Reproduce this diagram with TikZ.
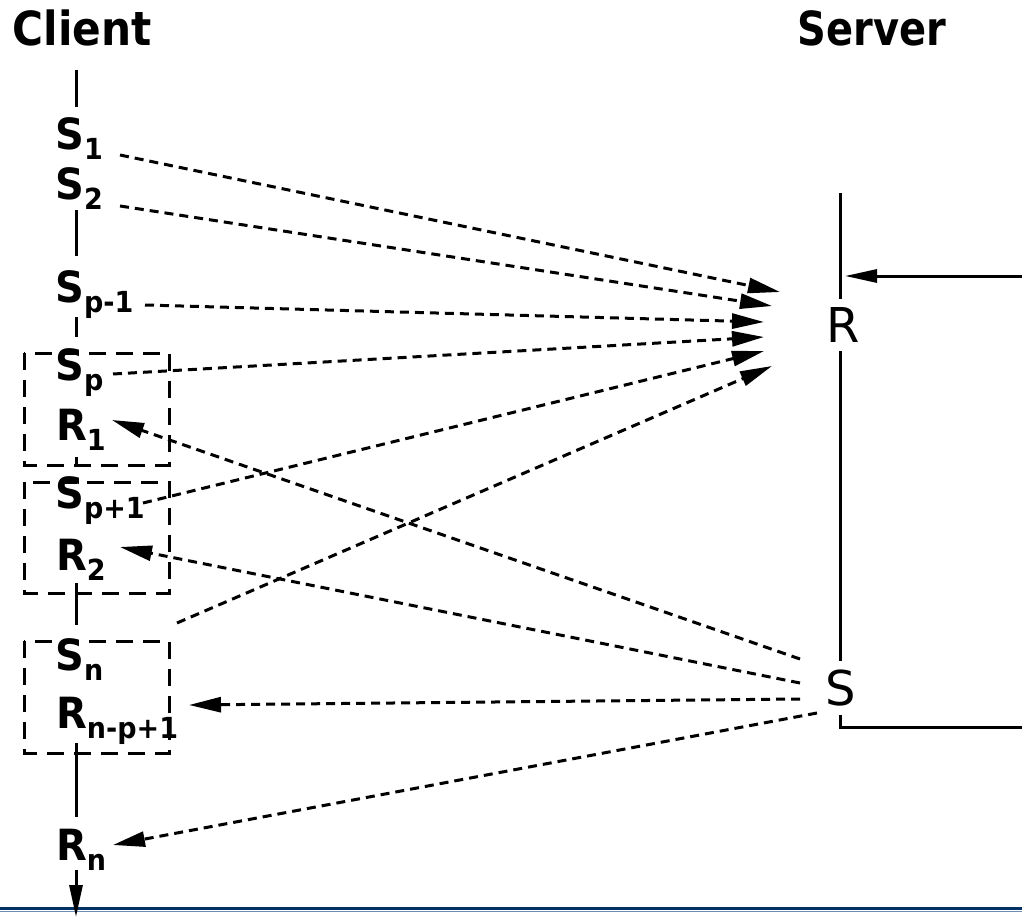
\documentclass[tikz,border=0pt]{standalone}
\usepackage{fontspec}
\setmainfont{DejaVu Sans}
\usetikzlibrary{arrows.meta}
\newcommand\lbl[2]{\scalebox{0.93}[1]{#1\raisebox{-10pt}{\fontsize{29}{29}\selectfont #2}}}
\begin{document}
\begin{tikzpicture}[x=1pt,y=-1pt,
  lab/.style={font=\fontsize{43}{43}\selectfont\bfseries, inner sep=0pt, anchor=base west},
  ttl/.style={font=\fontsize{47}{47}\selectfont\bfseries, inner sep=0pt, anchor=base},
  srv/.style={font=\fontsize{48}{48}\selectfont, fill=white, inner xsep=2pt, inner ysep=9pt},
  msg/.style={line width=3pt, dash pattern=on 9pt off 6pt, -{Triangle[length=32pt,width=15pt]}},
  tline/.style={line width=3pt},
  boxd/.style={line width=3pt, dash pattern=on 17pt off 10pt},
  solidarr/.style={line width=3pt, -{Triangle[length=32pt,width=13pt]}},
]
\useasboundingbox (0,0) rectangle (1022,917);
% bottom rule
\draw[line width=2.5pt, color={rgb,255:red,0;green,48;blue,100}] (0,908.5) -- (1022,908.5);
\draw[line width=1pt, color={rgb,255:red,110;green,140;blue,180}] (0,911) -- (1022,911);
% titles
\node[ttl] (client) at (82,46) {\scalebox{0.9}[1]{Client}};
\node[ttl] (server) at (872,46) {\scalebox{0.85}[1]{Server}};
% client labels
\node[lab] (s1) at (55,150) {\lbl{S}{1}};
\node[lab] (s2) at (55,200) {\lbl{S}{2}};
\node[lab] (spm) at (55,302) {\lbl{S}{p-1}};
\node[lab] (sp) at (55,380) {\lbl{S}{p}};
\node[lab] (r1) at (56,440) {\lbl{R}{1}};
\node[lab] (spp) at (55,508) {\lbl{S}{p+1}};
\node[lab] (r2) at (56,570) {\lbl{R}{2}};
\node[lab] (sn) at (55,670) {\lbl{S}{n}};
\node[lab] (rnp) at (56,728) {\lbl{R}{n-p+1}};
\node[lab] (rn) at (56,860) {\lbl{R}{n}};
% client timeline
\coordinate (t0) at (76,70);  \coordinate (t1) at (76,107);
\coordinate (t2) at (76,210); \coordinate (t3) at (76,256);
\coordinate (t4) at (76,317); \coordinate (t5) at (76,337);
\coordinate (t6) at (76,457); \coordinate (t7) at (76,466);
\coordinate (t8) at (76,583); \coordinate (t9) at (76,625);
\coordinate (t10) at (76,743); \coordinate (t11) at (76,817);
\coordinate (t12) at (76,870); \coordinate (t13) at (76,917);
\draw[tline] (t0) -- (t1);
\draw[tline] (t2) -- (t3);
\draw[tline] (t4) -- (t5);
\draw[tline] (t6) -- (t7);
\draw[tline] (t8) -- (t9);
\draw[tline] (t10) -- (t11);
\draw[solidarr] (t12) -- (t13);
% dashed boxes
\draw[boxd] (24,353) rectangle (169,465);
\draw[boxd] (24,482) rectangle (169,593);
\draw[boxd] (24,641) rectangle (169,753);
% server timeline
\coordinate (vtop) at (840,193);
\coordinate (vbot) at (840,727);
\coordinate (hend) at (1022,727);
\coordinate (hin) at (1022,276);
\coordinate (hto) at (845,276);
\draw[tline] (vtop) -- (vbot) -- (hend);
\node[srv] (R) at (843,325) {R};
\node[srv] (S) at (841,688) {S};
\draw[solidarr] (hin) -- (hto);
% send messages
\coordinate (a1) at (120,155); \coordinate (b1) at (780,292);
\coordinate (a2) at (120,206); \coordinate (b2) at (772,306);
\coordinate (a3) at (145,305); \coordinate (b3) at (764,322);
\coordinate (a4) at (113,374); \coordinate (b4) at (764,337);
\coordinate (a5) at (143,503); \coordinate (b5) at (764,351);
\coordinate (a6) at (177,623); \coordinate (b6) at (772,366);
\draw[msg] (a1) -- (b1);
\draw[msg] (a2) -- (b2);
\draw[msg] (a3) -- (b3);
\draw[msg] (a4) -- (b4);
\draw[msg] (a5) -- (b5);
\draw[msg] (a6) -- (b6);
% replies
\coordinate (c1) at (800,659); \coordinate (d1) at (112,420);
\coordinate (c2) at (800,683); \coordinate (d2) at (120,547);
\coordinate (c3) at (800,699); \coordinate (d3) at (189,705);
\coordinate (c4) at (817,713); \coordinate (d4) at (113,845);
\draw[msg] (c1) -- (d1);
\draw[msg] (c2) -- (d2);
\draw[msg] (c3) -- (d3);
\draw[msg] (c4) -- (d4);
\end{tikzpicture}
\end{document}
